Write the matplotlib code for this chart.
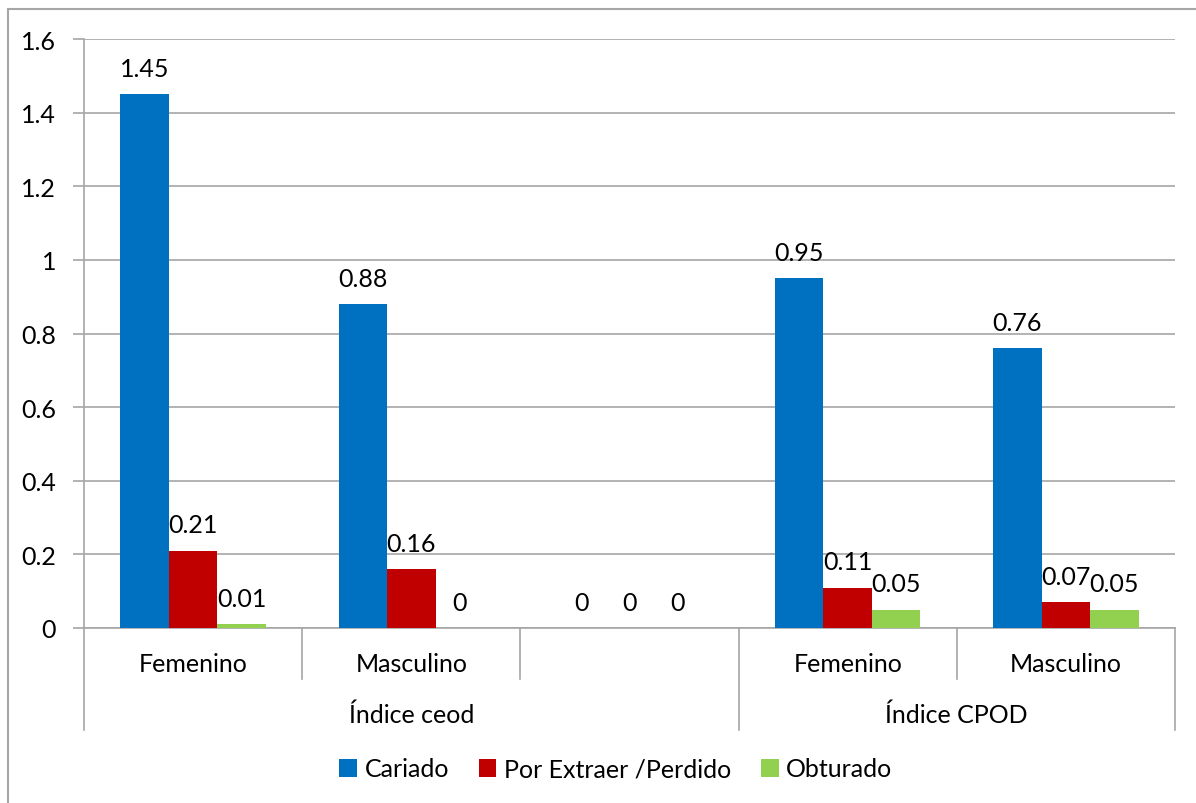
import numpy as np
import matplotlib.pyplot as plt
import matplotlib.transforms as mtransforms
from matplotlib.lines import Line2D

plt.rcParams['font.family'] = ['Lato', 'DejaVu Sans']

# categories (the middle slot is empty)
categories = ['Femenino', 'Masculino', '', 'Femenino', 'Masculino']
groups = ['Índice ceod', 'Índice CPOD']
group_spans = [(0, 3), (3, 5)]

cariado = [1.45, 0.88, 0, 0.95, 0.76]
por_extraer = [0.21, 0.16, 0, 0.11, 0.07]
obturado = [0.01, 0, 0, 0.05, 0.05]

series_names = ['Cariado', 'Por Extraer /Perdido', 'Obturado']
colors = ['#0070C0', '#C00000', '#92D050']
grid_c = '#A6A6A6'
fs = 18

fig = plt.figure(figsize=(11.96, 8.04), dpi=100)
ax = fig.add_axes([84/1196, 175/804, (1175-84)/1196, (629-40)/804])

x = np.arange(len(categories))
w = 1 / 4.5
for i, (vals, c) in enumerate(zip([cariado, por_extraer, obturado], colors)):
    pos = x + (i - 1) * w
    ax.bar(pos, vals, width=w, color=c, label=series_names[i], zorder=3)
    for p, v in zip(pos, vals):
        ax.text(p, v + 0.07, f'{v:g}', ha='center', va='center', fontsize=fs)

ax.set_xlim(-0.5, len(categories) - 0.5)
ax.set_ylim(0, 1.6)
ax.set_yticks(np.arange(0, 1.61, 0.2))
ax.set_yticklabels([f'{t:g}' for t in np.arange(0, 1.61, 0.2)], fontsize=fs)
ax.yaxis.grid(True, color=grid_c, lw=1.2, zorder=0)
ax.tick_params(axis='y', length=8, color=grid_c, width=1.2, pad=12)
ax.set_xticks([])
for s in ['top', 'right']:
    ax.spines[s].set_visible(False)
for s in ['left', 'bottom']:
    ax.spines[s].set_color(grid_c)
    ax.spines[s].set_linewidth(1.2)

# two-level category axis below the plot
tr = mtransforms.blended_transform_factory(ax.transData, ax.transAxes)
h = 629 - 40
y1 = -51 / h
y2 = -102 / h
for b in np.arange(len(categories) + 1) - 0.5:
    is_group = b in (-0.5, 2.5, 4.5)
    ax.add_line(Line2D([b, b], [0, y2 if is_group else y1], transform=tr,
                       color=grid_c, lw=1.2, clip_on=False))
for xi, lab in zip(x, categories):
    ax.text(xi, -36 / h, lab, transform=tr, ha='center', va='center', fontsize=fs)
for g, (a, b) in zip(groups, group_spans):
    ax.text((a + b - 1) / 2, -86 / h, g, transform=tr, ha='center', va='center', fontsize=fs)

fig.legend(loc='center', bbox_to_anchor=(0.515, 1 - 770/804), ncol=3, frameon=False,
           fontsize=fs, handlelength=0.7, handleheight=0.7, handletextpad=0.3,
           columnspacing=1.2)

# chart area border
fig.add_artist(Line2D([8/1196, 1], [1 - 10/804] * 2, color=grid_c, lw=1.5))
fig.add_artist(Line2D([8/1196] * 2, [0, 1 - 10/804], color=grid_c, lw=1.5))

fig.savefig('out.png', dpi=100)
